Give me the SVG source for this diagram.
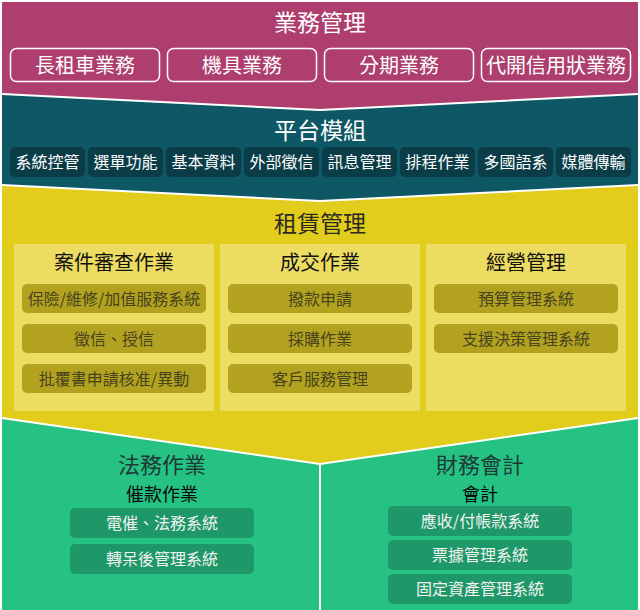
<svg xmlns="http://www.w3.org/2000/svg" width="640" height="610" viewBox="0 0 640 610">
<style>
text{font-family:"Noto Sans CJK TC","Noto Sans CJK SC",sans-serif;text-anchor:middle;dominant-baseline:central}
.h1{font-size:23px}
.w{fill:#ffffff}
.bizbox{fill:none;stroke:#ffffff;stroke-width:1.5}
.bt{font-size:20px;fill:#ffffff}
.tbox{fill:#0a3d48}
.tt{font-size:16px;fill:#ffffff}
.panel{fill:#ecdc62}
.pt{font-size:20px;fill:#111111}
.ibox{fill:#b2a220}
.it{font-size:16px;fill:#48431c}
.gbox{fill:#1e9868}
.gt{font-size:16px;fill:#f2f2f2}
.gh{font-size:22px;fill:#1d3a36}
.gs{font-size:18px;fill:#0a0a0a}
.sep{fill:none;stroke:#ffffff;stroke-width:2}
</style>
<rect x="0" y="0" width="640" height="610" fill="#ffffff"/>
<polygon points="2,418 320,464 638,418 638,610 2,610" fill="#26c283"/>
<polygon points="2,185 320,201 638,185 638,418 320,464 2,418" fill="#e2cc1c"/>
<polygon points="2,94 320,110 638,94 638,185 320,201 2,185" fill="#0e5865"/>
<polygon points="2,2 638,2 638,94 320,110 2,94" fill="#ad3e6d"/>

<g id="separators">
<polyline class="sep" points="2,94 320,110 638,94"/>
<polyline class="sep" points="2,185 320,201 638,185"/>
<polyline class="sep" points="2,418 320,464 638,418"/>
<line class="sep" x1="320" y1="464" x2="320" y2="610"/>
</g>

<g id="business">
<text class="h1 w" x="320" y="21">業務管理</text>
<g id="biz-1"><rect class="bizbox" x="10.5" y="48.5" width="149" height="33" rx="6"/><text class="bt" x="85" y="64">長租車業務</text></g>
<g id="biz-2"><rect class="bizbox" x="167.5" y="48.5" width="149" height="33" rx="6"/><text class="bt" x="242" y="64">機具業務</text></g>
<g id="biz-3"><rect class="bizbox" x="324.5" y="48.5" width="149" height="33" rx="6"/><text class="bt" x="399" y="64">分期業務</text></g>
<g id="biz-4"><rect class="bizbox" x="481.5" y="48.5" width="149" height="33" rx="6"/><text class="bt" x="556" y="64">代開信用狀業務</text></g>
</g>

<g id="platform">
<text class="h1 w" x="320" y="129">平台模組</text>
<g id="pf-1"><rect class="tbox" x="10" y="147" width="75" height="30" rx="5"/><text class="tt" x="47.5" y="161">系統控管</text></g>
<g id="pf-2"><rect class="tbox" x="88" y="147" width="75" height="30" rx="5"/><text class="tt" x="125.5" y="161">選單功能</text></g>
<g id="pf-3"><rect class="tbox" x="166" y="147" width="75" height="30" rx="5"/><text class="tt" x="203.5" y="161">基本資料</text></g>
<g id="pf-4"><rect class="tbox" x="244" y="147" width="75" height="30" rx="5"/><text class="tt" x="281.5" y="161">外部徵信</text></g>
<g id="pf-5"><rect class="tbox" x="322" y="147" width="75" height="30" rx="5"/><text class="tt" x="359.5" y="161">訊息管理</text></g>
<g id="pf-6"><rect class="tbox" x="400" y="147" width="75" height="30" rx="5"/><text class="tt" x="437.5" y="161">排程作業</text></g>
<g id="pf-7"><rect class="tbox" x="478" y="147" width="75" height="30" rx="5"/><text class="tt" x="515.5" y="161">多國語系</text></g>
<g id="pf-8"><rect class="tbox" x="556" y="147" width="75" height="30" rx="5"/><text class="tt" x="593.5" y="161">媒體傳輸</text></g>
</g>

<g id="leasing">
<text class="h1" x="320" y="222" fill="#2a2a22">租賃管理</text>
<g id="case-review">
<rect class="panel" x="14" y="244" width="200" height="167"/>
<text class="pt" x="114" y="261">案件審查作業</text>
<rect class="ibox" x="22" y="284" width="184" height="29" rx="5"/><text class="it" x="114" y="297.5">保險/維修/加值服務系統</text>
<rect class="ibox" x="22" y="324" width="184" height="29" rx="5"/><text class="it" x="114" y="337.5">徵信、授信</text>
<rect class="ibox" x="22" y="364" width="184" height="29" rx="5"/><text class="it" x="114" y="377.5">批覆書申請核准/異動</text>
</g>
<g id="deal">
<rect class="panel" x="220" y="244" width="200" height="167"/>
<text class="pt" x="320" y="261">成交作業</text>
<rect class="ibox" x="228" y="284" width="184" height="29" rx="5"/><text class="it" x="320" y="297.5">撥款申請</text>
<rect class="ibox" x="228" y="324" width="184" height="29" rx="5"/><text class="it" x="320" y="337.5">採購作業</text>
<rect class="ibox" x="228" y="364" width="184" height="29" rx="5"/><text class="it" x="320" y="377.5">客戶服務管理</text>
</g>
<g id="operation">
<rect class="panel" x="426" y="244" width="200" height="167"/>
<text class="pt" x="526" y="261">經營管理</text>
<rect class="ibox" x="434" y="284" width="184" height="29" rx="5"/><text class="it" x="526" y="297.5">預算管理系統</text>
<rect class="ibox" x="434" y="324" width="184" height="29" rx="5"/><text class="it" x="526" y="337.5">支援決策管理系統</text>
</g>
</g>

<g id="legal">
<text class="gh" x="162" y="463">法務作業</text>
<text class="gs" x="162" y="493">催款作業</text>
<rect class="gbox" x="70" y="508" width="184" height="30" rx="5"/><text class="gt" x="162" y="522">電催、法務系統</text>
<rect class="gbox" x="70" y="544" width="184" height="30" rx="5"/><text class="gt" x="162" y="558">轉呆後管理系統</text>
</g>

<g id="finance">
<text class="gh" x="480" y="463">財務會計</text>
<text class="gs" x="480" y="493">會計</text>
<rect class="gbox" x="388" y="506" width="184" height="30" rx="5"/><text class="gt" x="480" y="520">應收/付帳款系統</text>
<rect class="gbox" x="388" y="540" width="184" height="30" rx="5"/><text class="gt" x="480" y="554">票據管理系統</text>
<rect class="gbox" x="388" y="574" width="184" height="30" rx="5"/><text class="gt" x="480" y="588">固定資產管理系統</text>
</g>
</svg>
